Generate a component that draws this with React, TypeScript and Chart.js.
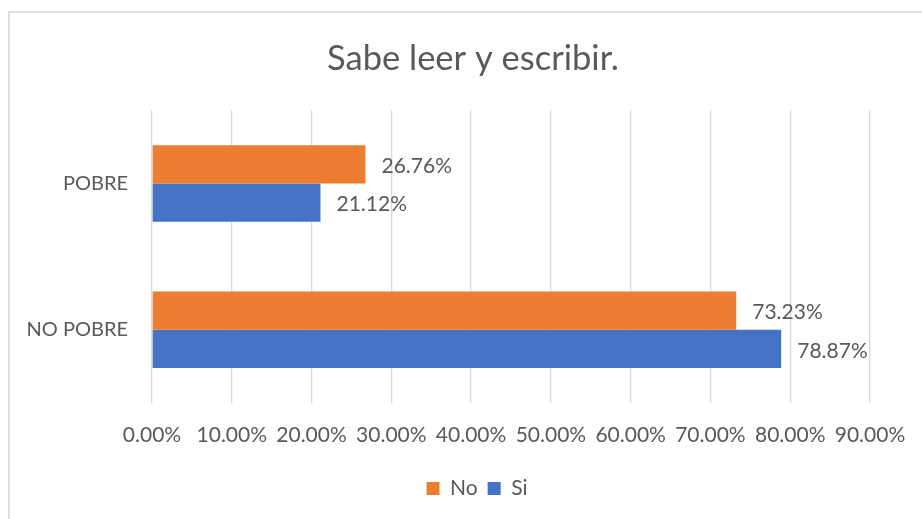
import React, { useEffect, useRef } from 'react';
import { Chart, registerables } from 'chart.js';

Chart.register(...registerables);

const categories: string[] = ['POBRE', 'NO POBRE'];
const seriesNames: string[] = ['No', 'Si'];
const noValues: number[] = [26.76, 73.23];
const siValues: number[] = [21.12, 78.87];
const xMin = 0;
const xMax = 90;
const xStep = 10;
const titleText = 'Sabe leer y escribir.';

const FONT = 'Lato, "Open Sans", sans-serif';
const TEXT = '#595959';
const GRID = '#d9d9d9';
const ORANGE = '#ED7D31';
const BLUE = '#4472C4';

export default function App() {
  const ref = useRef<HTMLCanvasElement>(null);

  useEffect(() => {
    if (!ref.current) return;
    const valueLabels = {
      id: 'valueLabels',
      afterDatasetsDraw(chart: any) {
        const ctx = chart.ctx;
        ctx.save();
        ctx.font = `21px ${FONT}`;
        ctx.fillStyle = TEXT;
        ctx.textAlign = 'left';
        ctx.textBaseline = 'middle';
        chart.data.datasets.forEach((ds: any, i: number) => {
          const meta = chart.getDatasetMeta(i);
          meta.data.forEach((el: any, j: number) => {
            const v = ds.data[j] as number;
            ctx.fillText(v.toFixed(2) + '%', el.x + 16, el.y + 2);
          });
        });
        ctx.restore();
      },
    };

    // Excel centres title and legend over a wider area than the plot;
    // shift the full-width title and legend boxes to match.
    const shiftBoxes = {
      id: 'shiftBoxes',
      afterLayout(chart: any) {
        const t = chart.titleBlock;
        if (t) {
          t.left += 38;
          t.right += 38;
        }
        const l = chart.legend;
        if (l) {
          l.left += 42;
          l.right += 42;
        }
      },
    };

    const chart: any = new Chart(ref.current, {
      type: 'bar',
      data: {
        labels: categories,
        datasets: [
          { label: seriesNames[0], data: noValues, backgroundColor: ORANGE },
          { label: seriesNames[1], data: siValues, backgroundColor: BLUE },
        ],
      },
      options: {
        indexAxis: 'y',
        responsive: false,
        animation: false,
        categoryPercentage: 0.523,
        barPercentage: 1,
        layout: { padding: { left: 0, right: 52, top: 0, bottom: 10 } },
        scales: {
          x: {
            min: xMin,
            max: xMax,
            ticks: {
              stepSize: xStep,
              callback: (v: any) => Number(v).toFixed(2) + '%',
              color: TEXT,
              font: { family: FONT, size: 21 },
              padding: 20,
              maxRotation: 0,
              autoSkip: false,
            },
            grid: { color: GRID, drawTicks: false, lineWidth: 1.3 },
            border: { display: false },
            afterFit(s: any) {
              s.height = 65;
              s.paddingLeft = 0;
              s.paddingRight = 0;
            },
          },
          y: {
            ticks: {
              color: TEXT,
              font: { family: FONT, size: 20 },
              padding: 24,
            },
            grid: { display: false, drawTicks: false },
            border: { display: false },
            afterFit(s: any) {
              s.width = 152;
            },
          },
        },
        plugins: {
          title: {
            display: true,
            text: titleText,
            color: TEXT,
            font: { family: FONT, size: 34.5, weight: 'normal' },
            padding: { top: 38, bottom: 31 },
          },
          legend: {
            position: 'bottom',
            labels: {
              boxWidth: 13,
              boxHeight: 13,
              color: TEXT,
              font: { family: FONT, size: 21 },
              padding: 10,
            },
          },
          tooltip: { enabled: false },
        },
      },
      plugins: [valueLabels, shiftBoxes],
    } as any);
    return () => chart.destroy();
  }, []);

  return (
    <div style={{ position: 'fixed', left: 0, top: 0, width: 922, height: 519, overflow: 'hidden', background: '#fff' }}>
      <div
        style={{
          position: 'absolute',
          left: 8,
          top: 11,
          width: 1000,
          height: 600,
          border: '2px solid #e0e0e0',
        }}
      />
      <canvas ref={ref} width={922} height={519} style={{ position: 'absolute', left: 0, top: 0, width: 922, height: 519 }} />
    </div>
  );
}
